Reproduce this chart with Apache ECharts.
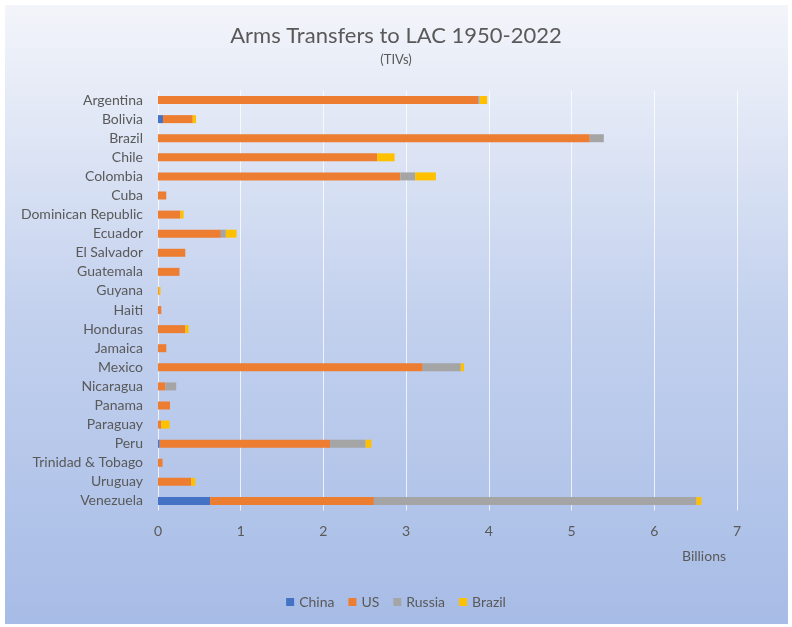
<!doctype html>
<html>
    <head>
        <meta charset="utf-8">
        <style>
            html, body { margin: 0; padding: 0; background: #fff; }
            #main { width: 792px; height: 627px; }
        </style>
    </head>
    <body>
        <div id="main"></div>
        <script src="https://cdn.jsdelivr.net/npm/echarts@6/dist/echarts.min.js"></script>
        <script>
            var countries = ['Argentina', 'Bolivia', 'Brazil', 'Chile', 'Colombia', 'Cuba',
                'Dominican Republic', 'Ecuador', 'El Salvador', 'Guatemala', 'Guyana', 'Haiti',
                'Honduras', 'Jamaica', 'Mexico', 'Nicaragua', 'Panama', 'Paraguay', 'Peru',
                'Trinidad & Tobago', 'Uruguay', 'Venezuela'];

            // billions of TIVs
            var china  = [0, 0.06, 0, 0, 0, 0, 0, 0, 0, 0, 0, 0, 0, 0, 0, 0, 0, 0, 0.02, 0, 0, 0.63];
            var us     = [3.87, 0.36, 5.22, 2.65, 2.93, 0.10, 0.27, 0.76, 0.33, 0.26, 0.01, 0.04,
                          0.33, 0.10, 3.20, 0.09, 0.145, 0.04, 2.06, 0.055, 0.40, 1.98];
            var russia = [0.02, 0, 0.17, 0, 0.18, 0, 0, 0.06, 0, 0, 0, 0,
                          0, 0, 0.46, 0.13, 0, 0, 0.43, 0, 0, 3.90];
            var brazil = [0.09, 0.04, 0, 0.21, 0.25, 0, 0.04, 0.13, 0, 0, 0.02, 0,
                          0.04, 0, 0.04, 0, 0, 0.10, 0.07, 0, 0.05, 0.06];

            var xTicks = [0, 1, 2, 3, 4, 5, 6, 7];

            var font = 'Lato';
            var textColor = '#595959';

            var chart = echarts.init(document.getElementById('main'));

            function bar(name, data, color) {
                return {
                    name: name,
                    type: 'bar',
                    stack: 'total',
                    data: data,
                    barWidth: 8,
                    itemStyle: { color: color },
                    emphasis: { disabled: true }
                };
            }

            chart.setOption({
                animation: false,
                textStyle: { fontFamily: font },
                graphic: [{
                    type: 'rect',
                    left: 5, top: 5,
                    shape: { width: 783, height: 619 },
                    z: -10,
                    style: {
                        fill: new echarts.graphic.LinearGradient(0, 0, 0, 1, [
                            { offset: 0, color: '#f3f5fa' },
                            { offset: 0.5, color: '#c3d1ee' },
                            { offset: 1, color: '#a7bce6' }
                        ])
                    }
                }, {
                    type: 'text',
                    left: 682, top: 549,
                    style: { text: 'Billions', fill: textColor, font: '14px ' + font }
                }],
                title: {
                    text: 'Arms Transfers to LAC 1950-2022',
                    subtext: '(TIVs)',
                    left: 'center',
                    top: 20,
                    itemGap: 6,
                    textStyle: { color: textColor, fontSize: 22, fontWeight: 'normal', fontFamily: font },
                    subtextStyle: { color: textColor, fontSize: 13, fontFamily: font }
                },
                legend: {
                    bottom: 13,
                    left: 'center',
                    icon: 'rect',
                    itemWidth: 8,
                    itemHeight: 8,
                    itemGap: 14,
                    textStyle: { color: textColor, fontSize: 14, fontFamily: font },
                    data: ['China', 'US', 'Russia', 'Brazil']
                },
                grid: { left: 158, right: 55, top: 90.5, bottom: 116.5 },
                xAxis: {
                    type: 'value',
                    min: xTicks[0],
                    max: xTicks[xTicks.length - 1],
                    interval: 1,
                    axisLine: { show: false },
                    axisTick: { show: false },
                    axisLabel: { color: textColor, fontSize: 14, margin: 14 },
                    splitLine: { lineStyle: { color: 'rgba(255,255,255,0.75)', width: 1 } }
                },
                yAxis: {
                    type: 'category',
                    inverse: true,
                    data: countries,
                    axisLine: { show: false },
                    axisTick: { show: false },
                    axisLabel: { color: textColor, fontSize: 14, margin: 15 }
                },
                series: [
                    bar('China', china, '#4472c4'),
                    bar('US', us, '#ed7d31'),
                    bar('Russia', russia, '#a5a5a5'),
                    bar('Brazil', brazil, '#ffc000')
                ]
            });

            window.addEventListener('resize', function () {
                chart.resize();
            });
        </script>
    </body>
</html>
